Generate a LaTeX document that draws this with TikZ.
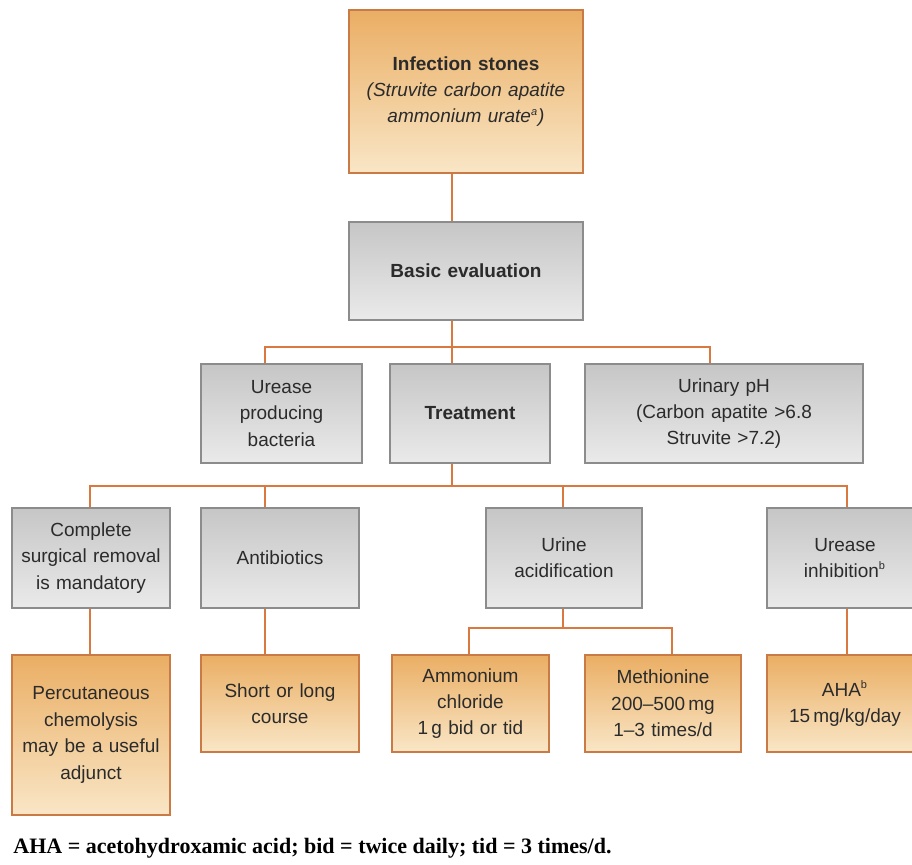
\documentclass[tikz,border=0pt]{standalone}
\usepackage{fontspec}
\setmainfont{Liberation Sans}
\newfontfamily\notefont{Liberation Serif}
\usepackage{xcolor}
\definecolor{OrTop}{HTML}{EAAE64}
\definecolor{OrBot}{HTML}{F9E6C6}
\definecolor{OrLine}{HTML}{C97A45}
\definecolor{GrTop}{HTML}{C6C6C6}
\definecolor{GrBot}{HTML}{EAEAEA}
\definecolor{GrLine}{HTML}{8C8C8C}
\definecolor{Link}{HTML}{D9793F}
\definecolor{Ink}{HTML}{2B2B2B}
\usetikzlibrary{calc}
\tikzset{
  bx/.style 2 args={rectangle,minimum width=#1*0.5pt,minimum height=#2*0.5pt,
    text width=#1*0.5pt-8pt,inner sep=0pt,align=center,text=Ink,
    font=\fontsize{9.5}{13.2}\selectfont,line width=0.9pt},
  gbx/.style={draw=GrLine,top color=GrTop,bottom color=GrBot},
  obx/.style={draw=OrLine,top color=OrTop,bottom color=OrBot},
  link/.style={draw=Link,line width=1pt},
}
\newcommand{\hd}[1]{{\bfseries #1}}
\newcommand{\fn}[1]{\textsuperscript{\fontsize{5.5}{5.5}\selectfont #1}}

\begin{document}
\begin{tikzpicture}[x=0.5pt,y=-0.5pt]
\useasboundingbox[fill=white] (0,0) rectangle (912,865);
% top
\node[bx={234}{163},obx] (stones) at (466,91.5)
  {\hd{Infection stones}\\\textit{(Struvite carbon apatite ammonium urate\fn{a})}\\[-3pt]};
\node[bx={234}{98},gbx] (basic) at (466,271) {\hd{Basic evaluation}};

% second row
\node[bx={161}{99},gbx] (urease) at (281.5,413.5) {Urease\\producing\\bacteria};
\node[bx={160}{99},gbx] (treat) at (470,413.5) {\hd{Treatment}};
\node[bx={278}{99},gbx] (urph) at (724,413.5)
  {Urinary pH\\(Carbon apatite >6.8\\Struvite >7.2)};

% third row
\node[bx={158}{100},gbx] (surg) at (91,558) {Complete\\surgical removal\\is mandatory};
\node[bx={158}{100},gbx] (abx) at (280,558) {Antibiotics};
\node[bx={156}{100},gbx] (acid) at (564,558) {Urine\\acidification};
\node[bx={156}{100},gbx] (inhib) at (845,558) {Urease\\inhibition\fn{b}};

% bottom row
\node[bx={158}{160},obx] (chemo) at (91,735)
  {Percutaneous\\chemolysis\\may be a useful\\adjunct};
\node[bx={158}{97},obx] (course) at (280,703.5) {Short or long\\course};
\node[bx={157}{97},obx] (ammon) at (470.5,703.5) {Ammonium\\chloride\\1\,g bid or tid};
\node[bx={156}{97},obx] (methio) at (663,703.5) {Methionine\\200--500\,mg\\1--3 times/d};
\node[bx={156}{97},obx] (aha) at (845,703.5) {AHA\fn{b}\\15\,mg/kg/day};

\node[anchor=west,inner sep=0pt,text=black,font=\notefont\bfseries\fontsize{11}{13}\selectfont]
  (note) at (13,848) {AHA = acetohydroxamic acid; bid = twice daily; tid = 3 times/d.};

% bus points
\coordinate (b1) at (452,347); \coordinate (b1l) at (265,347); \coordinate (b1r) at (710,347);
\coordinate (b2) at (452,486); \coordinate (b2l) at (90,486); \coordinate (b2r) at (847,486);
\coordinate (d2a) at (265,486); \coordinate (d2b) at (563,486);
\coordinate (b3) at (563,628); \coordinate (b3l) at (469,628); \coordinate (b3r) at (672,628);

\draw[link] (stones.south -| b1) -- (basic.north -| b1);
\draw[link] (basic.south -| b1) -- (b1);
\draw[link] (b1l |- urease.north) -- (b1l) -- (b1r) -- (b1r |- urph.north);
\draw[link] (b1) -- (b1 |- treat.north);
\draw[link] (treat.south -| b2) -- (b2);
\draw[link] (b2l |- surg.north) -- (b2l) -- (b2r) -- (b2r |- inhib.north);
\draw[link] (d2a) -- (d2a |- abx.north);
\draw[link] (d2b) -- (d2b |- acid.north);
\draw[link] (surg.south -| b2l) -- (chemo.north -| b2l);
\draw[link] (abx.south -| d2a) -- (course.north -| d2a);
\draw[link] (acid.south -| b3) -- (b3);
\draw[link] (b3l |- ammon.north) -- (b3l) -- (b3r) -- (b3r |- methio.north);
\draw[link] (inhib.south -| b2r) -- (aha.north -| b2r);
\end{tikzpicture}
\end{document}
